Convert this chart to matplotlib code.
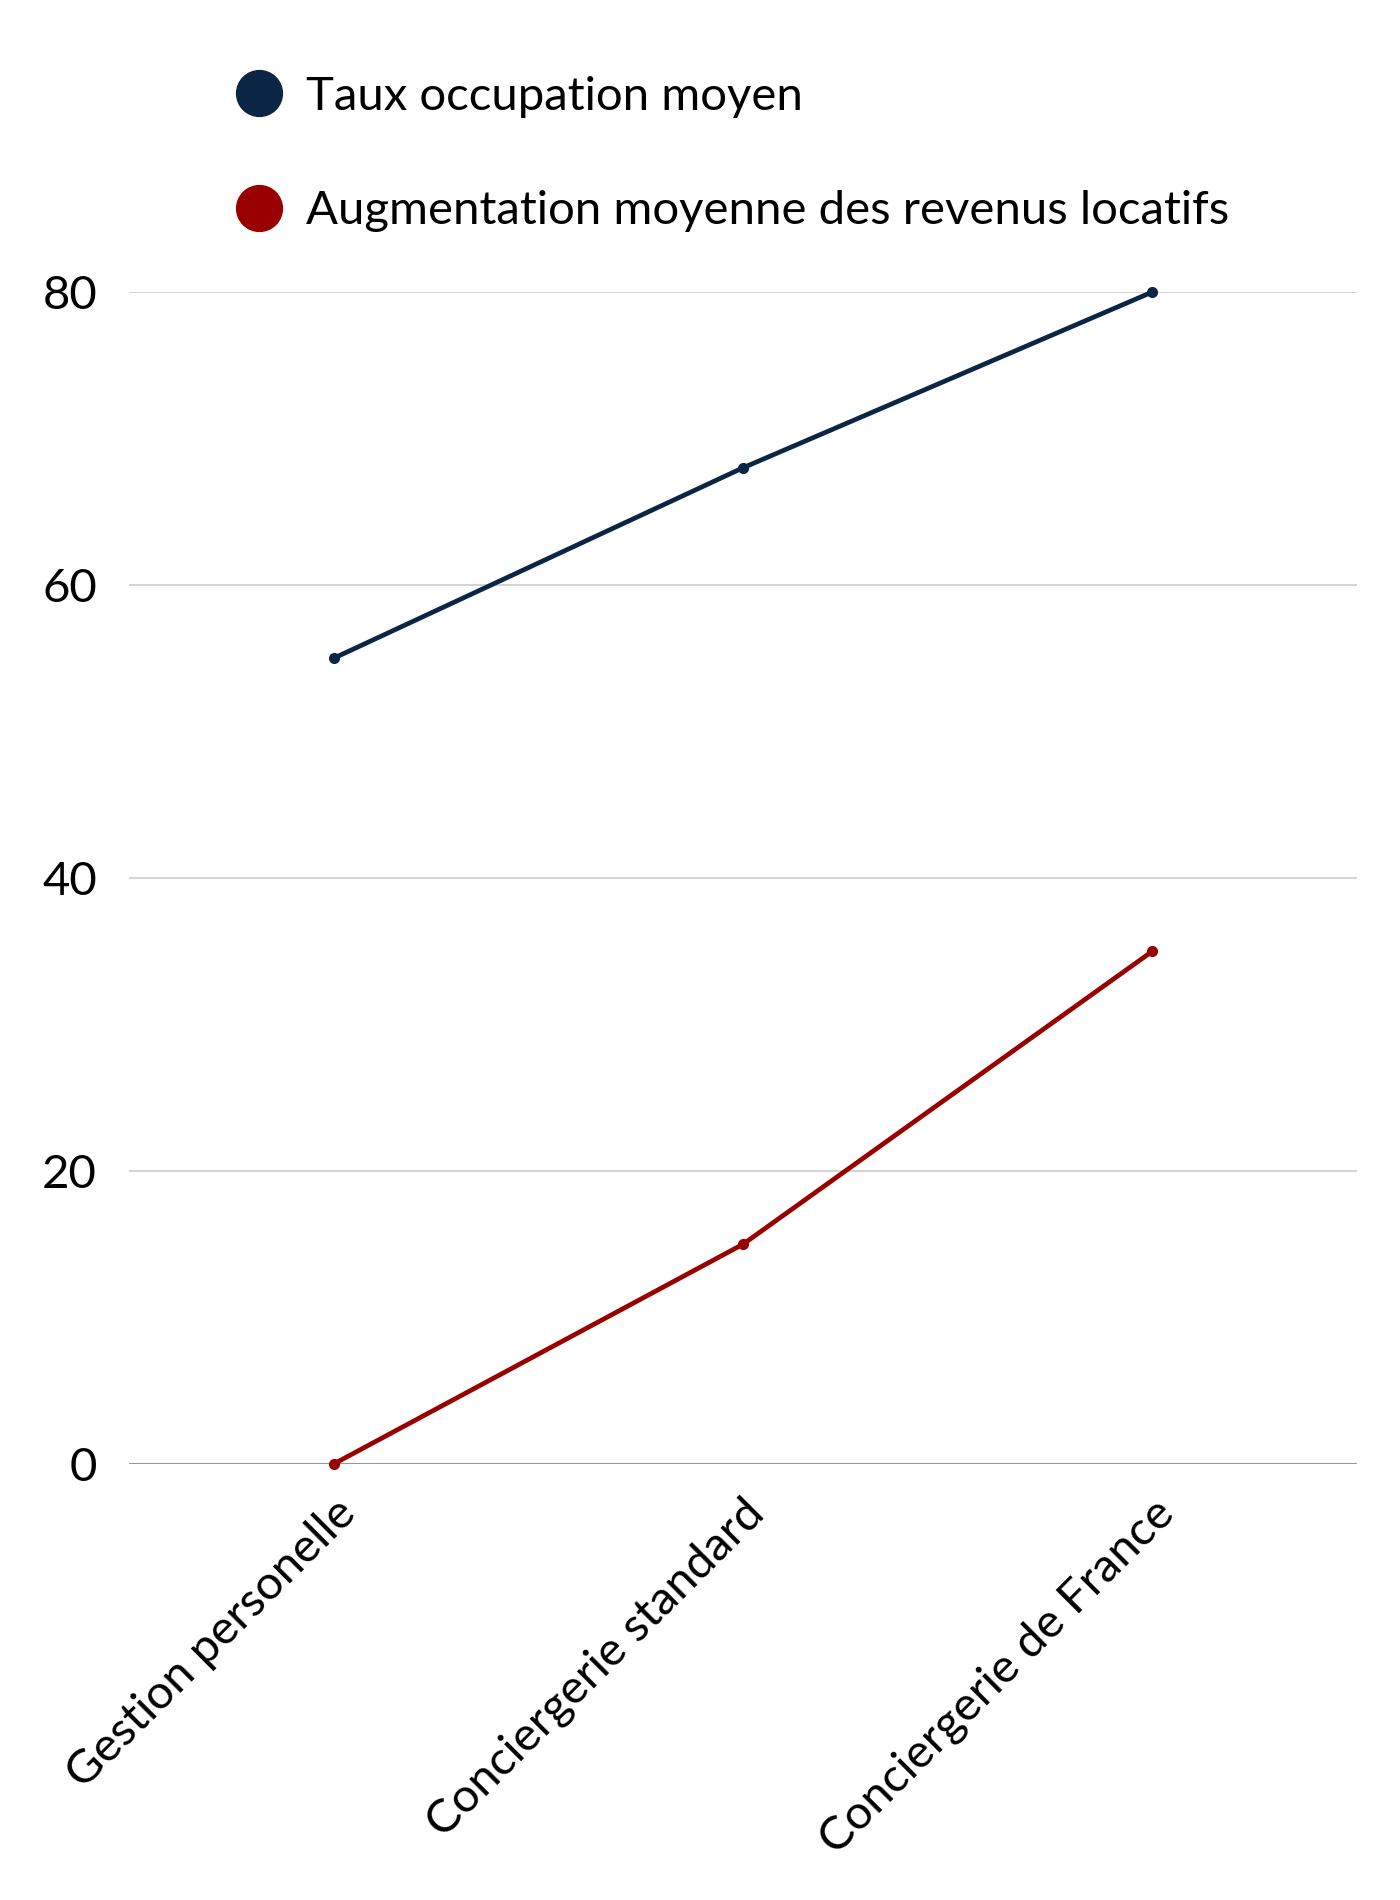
import matplotlib.pyplot as plt
from matplotlib.lines import Line2D

plt.rcParams['font.family'] = ['Lato', 'DejaVu Sans']

categories = ["Gestion personelle", "Conciergerie standard", "Conciergerie de France"]
taux_occupation = [55, 68, 80]
augmentation_revenus = [0, 15, 35]
series_names = ["Taux occupation moyen", "Augmentation moyenne des revenus locatifs"]
colors = ["#0b2545", "#990000"]
y_ticks = [0, 20, 40, 60, 80]

fig = plt.figure(figsize=(14, 19), dpi=100)
ax = fig.add_axes([129 / 1400, 1 - 1464 / 1900, (1357 - 129) / 1400, (1464 - 292) / 1900])

x = list(range(len(categories)))
for vals, c in zip([taux_occupation, augmentation_revenus], colors):
    ax.plot(x, vals, color=c, linewidth=3.4, marker="o", markersize=7,
            clip_on=False, zorder=3)

ax.set_xlim(-0.5, 2.5)
ax.set_ylim(0, 80)
ax.set_yticks(y_ticks)
ax.set_yticklabels([str(v) for v in y_ticks], fontsize=34)
ax.set_xticks(x)
ax.set_xticklabels(categories, fontsize=34, rotation=45, ha="right",
                   rotation_mode="anchor")
ax.tick_params(axis="both", length=0)
ax.tick_params(axis="y", pad=23)
ax.tick_params(axis="x", pad=20)

for v in y_ticks[1:]:
    ax.axhline(v, color="#cccccc", linewidth=1.2, zorder=1)
ax.axhline(0, color="#999999", linewidth=1.5, zorder=1)
for s in ax.spines.values():
    s.set_visible(False)

handles = [Line2D([], [], linestyle="none", marker="o", markersize=33,
                  markerfacecolor=c, markeredgecolor=c) for c in colors]
fig.legend(handles, series_names, loc="upper left",
           bbox_to_anchor=(219 / 1400, 1 - 57 / 1900), frameon=False,
           fontsize=34, handlelength=0.9, handletextpad=0.55,
           labelspacing=1.53, borderaxespad=0)

fig.savefig("out.png", dpi=100, facecolor="white")
